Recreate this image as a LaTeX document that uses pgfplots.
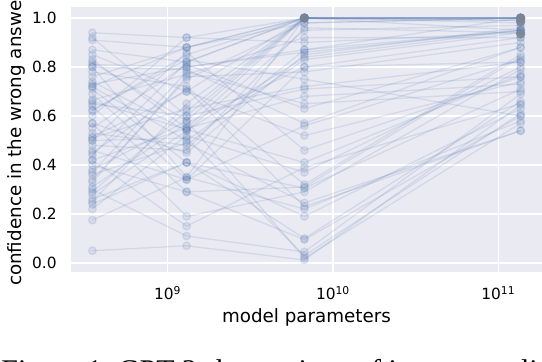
\documentclass[border=0pt]{standalone}
\usepackage{pgfplots}
\pgfplotsset{compat=1.18}
\usepackage{fontspec}
\setmainfont{DejaVu Sans}
\newfontfamily\capfont{Liberation Serif}
\definecolor{bgc}{HTML}{EAEAF2}
\definecolor{cz}{HTML}{4C72B0}
\definecolor{hot}{HTML}{7E8594}
\newcommand\tickf{\fontsize{7.7}{9}\selectfont}
\newcommand\labf{\fontsize{9.15}{11}\selectfont}

\begin{document}
\begin{tikzpicture}
\pgfplotsset{run/.style={color=cz, line width=0.65pt, opacity=0.15, mark=*, mark size=1.9pt,
    mark options={draw opacity=0.15, fill opacity=0.11}}}
\begin{axis}[
    at={(0,0)}, anchor=south west,
    scale only axis, width=235.5pt, height=132.5pt,
    xmode=log, xmin=2.6e8, xmax=1.832e11,
    ymin=-0.037, ymax=1.045,
    axis background/.style={fill=bgc},
    axis line style={draw=none},
    grid=major, grid style={white, line width=0.7pt},
    major tick length=0pt, minor tick length=0pt,
    xtick={1e9,1e10,1e11},
    xticklabels={10\textsuperscript{9},10\textsuperscript{10},10\textsuperscript{11}},
    ytick={0,0.2,0.4,0.6,0.8,1.0},
    yticklabel style={font=\tickf, anchor=east, inner sep=0pt, xshift=-7pt,
        /pgf/number format/.cd, fixed, fixed zerofill, precision=1, assume math mode=true},
    xticklabel style={font=\tickf, anchor=base, inner sep=0pt, yshift=-14pt},
]
\addplot[run] coordinates {(3.5e8,0.94) (1.3e9,0.92) (6.7e9,1.00) (1.36e11,1.00)};
\addplot[run] coordinates {(3.5e8,0.91) (1.3e9,0.88) (6.7e9,0.98) (1.36e11,1.00)};
\addplot[run] coordinates {(3.5e8,0.87) (1.3e9,0.82) (6.7e9,1.00) (1.36e11,1.00)};
\addplot[run] coordinates {(3.5e8,0.83) (1.3e9,0.55) (6.7e9,1.00) (1.36e11,0.99)};
\addplot[run] coordinates {(3.5e8,0.81) (1.3e9,0.80) (6.7e9,0.86) (1.36e11,0.95)};
\addplot[run] coordinates {(3.5e8,0.80) (1.3e9,0.79) (6.7e9,0.57) (1.36e11,0.88)};
\addplot[run] coordinates {(3.5e8,0.80) (1.3e9,0.35) (6.7e9,1.00) (1.36e11,1.00)};
\addplot[run] coordinates {(3.5e8,0.78) (1.3e9,0.72) (6.7e9,0.32) (1.36e11,0.85)};
\addplot[run] coordinates {(3.5e8,0.74) (1.3e9,0.54) (6.7e9,0.95) (1.36e11,0.97)};
\addplot[run] coordinates {(3.5e8,0.72) (1.3e9,0.88) (6.7e9,1.00) (1.36e11,1.00)};
\addplot[run] coordinates {(3.5e8,0.72) (1.3e9,0.50) (6.7e9,0.83) (1.36e11,0.94)};
\addplot[run] coordinates {(3.5e8,0.71) (1.3e9,0.41) (6.7e9,0.10) (1.36e11,0.66)};
\addplot[run] coordinates {(3.5e8,0.665) (1.3e9,0.77) (6.7e9,0.92) (1.36e11,0.92)};
\addplot[run] coordinates {(3.5e8,0.65) (1.3e9,0.60) (6.7e9,1.00) (1.36e11,0.95)};
\addplot[run] coordinates {(3.5e8,0.64) (1.3e9,0.29) (6.7e9,0.31) (1.36e11,0.84)};
\addplot[run] coordinates {(3.5e8,0.625) (1.3e9,0.83) (6.7e9,0.75) (1.36e11,0.60)};
\addplot[run] coordinates {(3.5e8,0.57) (1.3e9,0.45) (6.7e9,0.85) (1.36e11,0.96)};
\addplot[run] coordinates {(3.5e8,0.57) (1.3e9,0.19) (6.7e9,0.29) (1.36e11,0.79)};
\addplot[run] coordinates {(3.5e8,0.515) (1.3e9,0.70) (6.7e9,1.00) (1.36e11,1.00)};
\addplot[run] coordinates {(3.5e8,0.51) (1.3e9,0.63) (6.7e9,0.72) (1.36e11,0.82)};
\addplot[run] coordinates {(3.5e8,0.50) (1.3e9,0.86) (6.7e9,0.46) (1.36e11,0.76)};
\addplot[run] coordinates {(3.5e8,0.50) (1.3e9,0.51) (6.7e9,0.03) (1.36e11,0.61)};
\addplot[run] coordinates {(3.5e8,0.46) (1.3e9,0.34) (6.7e9,0.80) (1.36e11,0.92)};
\addplot[run] coordinates {(3.5e8,0.44) (1.3e9,0.82) (6.7e9,1.00) (1.36e11,1.00)};
\addplot[run] coordinates {(3.5e8,0.42) (1.3e9,0.55) (6.7e9,0.68) (1.36e11,0.73)};
\addplot[run] coordinates {(3.5e8,0.42) (1.3e9,0.15) (6.7e9,0.39) (1.36e11,0.65)};
\addplot[run] coordinates {(3.5e8,0.38) (1.3e9,0.58) (6.7e9,1.00) (1.36e11,0.99)};
\addplot[run] coordinates {(3.5e8,0.37) (1.3e9,0.78) (6.7e9,0.65) (1.36e11,0.70)};
\addplot[run] coordinates {(3.5e8,0.36) (1.3e9,0.49) (6.7e9,0.245) (1.36e11,0.54)};
\addplot[run] coordinates {(3.5e8,0.34) (1.3e9,0.75) (6.7e9,0.98) (1.36e11,1.00)};
\addplot[run] coordinates {(3.5e8,0.30) (1.3e9,0.11) (6.7e9,0.045) (1.36e11,0.69)};
\addplot[run] coordinates {(3.5e8,0.28) (1.3e9,0.54) (6.7e9,0.84) (1.36e11,0.95)};
\addplot[run] coordinates {(3.5e8,0.26) (1.3e9,0.41) (6.7e9,0.19) (1.36e11,0.63)};
\addplot[run] coordinates {(3.5e8,0.25) (1.3e9,0.65) (6.7e9,1.00) (1.36e11,1.00)};
\addplot[run] coordinates {(3.5e8,0.22) (1.3e9,0.52) (6.7e9,0.37) (1.36e11,0.80)};
\addplot[run] coordinates {(3.5e8,0.175) (1.3e9,0.35) (6.7e9,0.22) (1.36e11,0.58)};
\addplot[run] coordinates {(3.5e8,0.05) (1.3e9,0.07) (6.7e9,0.012) (1.36e11,0.645)};
\addplot[run] coordinates {(3.5e8,0.92) (1.3e9,0.60) (6.7e9,0.71) (1.36e11,0.76)};
\addplot[run] coordinates {(3.5e8,0.85) (1.3e9,0.70) (6.7e9,0.52) (1.36e11,0.74)};
\addplot[run] coordinates {(3.5e8,0.76) (1.3e9,0.88) (6.7e9,1.00) (1.36e11,1.00)};
\addplot[run] coordinates {(3.5e8,0.69) (1.3e9,0.34) (6.7e9,0.56) (1.36e11,0.83)};
\addplot[run] coordinates {(3.5e8,0.60) (1.3e9,0.92) (6.7e9,0.90) (1.36e11,0.94)};
\addplot[run] coordinates {(3.5e8,0.55) (1.3e9,0.81) (6.7e9,0.63) (1.36e11,0.88)};
\addplot[run] coordinates {(3.5e8,0.48) (1.3e9,0.46) (6.7e9,0.96) (1.36e11,0.94)};
\addplot[run] coordinates {(3.5e8,0.40) (1.3e9,0.29) (6.7e9,0.095) (1.36e11,0.60)};
\addplot[run] coordinates {(3.5e8,0.33) (1.3e9,0.76) (6.7e9,0.78) (1.36e11,0.90)};
\addplot[run] coordinates {(3.5e8,0.29) (1.3e9,0.62) (6.7e9,1.00) (1.36e11,1.00)};
\addplot[run] coordinates {(3.5e8,0.24) (1.3e9,0.41) (6.7e9,0.305) (1.36e11,0.71)};
\addplot[run] coordinates {(3.5e8,0.66) (1.3e9,0.545) (6.7e9,0.41) (1.36e11,0.77)};
\addplot[run] coordinates {(3.5e8,0.82) (1.3e9,0.58) (6.7e9,0.02) (1.36e11,0.57)};
\addplot[run] coordinates {(3.5e8,0.73) (1.3e9,0.80) (6.7e9,0.87) (1.36e11,0.95)};
\addplot[run] coordinates {(3.5e8,0.53) (1.3e9,0.48) (6.7e9,0.87) (1.36e11,1.00)};
\addplot[run] coordinates {(3.5e8,0.45) (1.3e9,0.71) (6.7e9,0.23) (1.36e11,0.54)};
\addplot[run] coordinates {(3.5e8,0.31) (1.3e9,0.57) (6.7e9,0.80) (1.36e11,0.82)};
\addplot[run] coordinates {(3.5e8,0.62) (1.3e9,0.85) (6.7e9,1.00) (1.36e11,0.98)};
% dense overlaps at the top
\addplot[only marks, mark=*, mark size=2.1pt, color=hot, opacity=0.85]
  coordinates {(6.7e9,1.00) (1.36e11,1.00) (1.36e11,0.985) (1.36e11,0.935)};
\end{axis}
\node[rotate=90, anchor=base, font=\labf, inner sep=0pt] at (-25pt,66.25pt) {confidence in the wrong answer};
\node[anchor=base, font=\labf, inner sep=0pt] at (117.75pt,-25.5pt) {model parameters};
\node[anchor=base west, font=\capfont\fontsize{15}{18}\selectfont, inner sep=0pt] at (-35pt,-54.5pt)
  {Figure 1:\ GPT-3 shows signs of inverse scaling on};
\pgfresetboundingbox
\useasboundingbox (-35.5pt,-45pt) rectangle (235.5pt,136pt);
\end{tikzpicture}
\end{document}
